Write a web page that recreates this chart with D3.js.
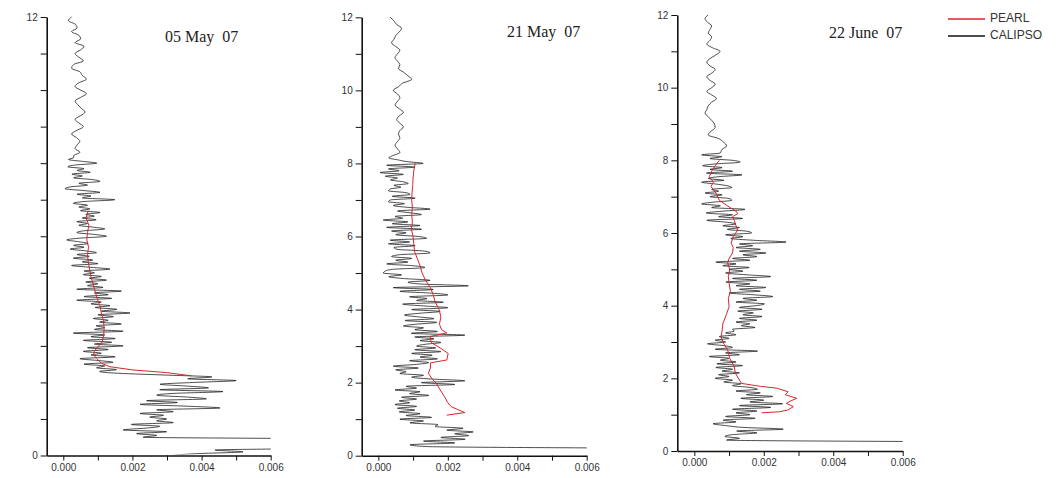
<!DOCTYPE html>
<html>
<head>
<meta charset="utf-8">
<script src="https://cdnjs.cloudflare.com/ajax/libs/d3/7.8.5/d3.min.js"></script>
<style>
  body { margin: 0; background: #fff; }
  svg { display: block; }
  .axis text { font-family: "Liberation Sans", Arial, sans-serif; font-size: 10px; fill: #333; }
  .axis path, .axis line { stroke: #111; }
  .title { font-family: "Liberation Serif", "Times New Roman", serif; font-size: 16px; fill: #222; white-space: pre; }
  .legend text { font-family: "Liberation Sans", Arial, sans-serif; font-size: 12px; fill: #333; }
</style>
</head>
<body>
<svg id="chart" width="1059" height="478"></svg>
<script>
// x values are in units of 1e-3, altitudes in km
var UNIT = 1e-3;
// CALIPSO profiles: above 8.2 km sampled every 0.1 km from 12.0, below every 0.05 km from 8.15
var TOP_ALT = 12.0, TOP_STEP = 0.1, LOW_ALT = 8.15, LOW_STEP = 0.05;

var titles = ["05 May  07", "21 May  07", "22 June  07"];
var xTicks = [0, 1, 2, 3, 4, 5, 6];
var yTicks = [0, 1, 2, 3, 4, 5, 6, 7, 8, 9, 10, 11, 12];
var legendNames = ["PEARL", "CALIPSO"];

var calipsoTop1 = [0.24,0.15,0.35,0.40,0.24,0.45,0.50,0.34,0.60,0.50,
  0.34,0.45,0.58,0.30,0.24,0.48,0.55,0.67,0.45,0.34,
  0.50,0.67,0.50,0.34,0.42,0.52,0.63,0.50,0.34,0.45,
  0.58,0.40,0.24,0.38,0.48,0.40,0.34,0.48,0.30];
var calipsoLow1 = [0.30,0.15,0.55,0.97,0.35,0.13,0.60,0.40,0.78,0.25,
  0.55,0.30,0.85,1.06,0.45,0.70,0.20,0.05,0.60,1.06,
  0.40,0.80,0.55,1.49,0.60,0.29,0.70,0.45,0.77,0.50,
  1.06,0.65,0.90,0.55,0.95,0.39,0.70,0.45,0.85,1.20,
  0.60,0.39,0.90,1.25,0.50,0.10,0.45,0.72,0.30,0.60,
  0.20,0.65,0.96,0.40,0.75,0.29,0.85,0.55,1.00,0.24,
  0.80,1.35,0.60,0.90,0.58,1.10,0.75,1.25,0.65,1.00,
  0.70,1.15,0.39,1.68,0.90,1.30,0.60,1.40,0.39,1.10,
  0.80,1.35,0.92,1.55,1.10,1.93,1.00,1.45,0.87,1.30,
  1.05,1.68,0.95,1.20,0.90,1.73,0.29,1.20,0.80,1.50,
  0.58,1.40,0.90,1.73,0.70,1.30,0.58,1.10,0.80,1.50,
  0.48,1.00,1.44,0.60,1.20,0.96,1.54,1.05,1.60,3.00,
  4.30,3.60,5.00,3.80,2.80,3.57,4.20,2.79,4.62,3.20,
  2.70,3.57,4.14,2.41,3.30,2.22,3.57,4.53,2.70,3.18,
  2.22,2.90,2.50,2.99,2.70,3.18,1.97,2.79,2.40,1.73,
  2.99,2.12,2.70,2.31,9.00,12.0,10.0,11.0,9.50,8.00,
  4.39,5.20,3.85,3.13];
var pearlAlt1 = [6.70,6.50,6.30,6.10,5.90,5.70,5.50,5.30,5.10,4.90,
  4.70,4.50,4.30,4.10,3.90,3.70,3.50,3.30,3.10,2.95,
  2.85,2.75,2.66,2.52,2.43,2.34,2.27,2.18];
var pearl1 = [0.72,0.66,0.74,0.70,0.68,0.73,0.70,0.72,0.76,0.80,
  0.86,0.92,0.98,1.06,1.10,1.16,1.18,1.17,1.12,0.98,
  0.90,0.88,0.96,1.11,1.35,2.02,2.98,3.71];

var calipsoTop2 = [0.34,0.45,0.53,0.67,0.60,0.50,0.45,0.38,0.50,0.62,
  0.55,0.48,0.55,0.62,0.58,0.72,0.85,0.96,0.70,0.58,
  0.43,0.55,0.62,0.55,0.48,0.60,0.72,0.60,0.53,0.62,
  0.72,0.62,0.58,0.62,0.55,0.48,0.55,0.62,0.38];
var calipsoLow2 = [0.30,0.55,0.82,1.29,0.24,1.05,0.29,0.60,0.05,0.72,
  0.20,0.55,0.35,0.70,0.86,0.45,0.65,0.34,0.29,0.80,
  0.91,0.40,1.06,0.35,0.29,0.75,0.43,0.82,1.49,0.55,
  0.90,1.24,0.48,0.70,0.14,0.85,0.40,1.20,0.24,1.24,
  0.38,0.80,0.50,1.15,1.39,0.34,0.90,0.29,1.06,0.45,
  0.53,1.34,1.49,0.60,0.38,0.96,0.50,0.85,0.24,1.00,
  1.34,0.40,0.19,0.14,0.67,0.30,0.72,1.49,0.85,1.20,
  2.59,0.43,1.58,0.62,1.53,2.00,0.90,1.40,1.10,1.87,
  0.70,1.30,2.00,0.96,1.78,1.20,0.75,1.15,1.60,0.77,
  1.68,1.10,0.72,1.30,1.05,1.70,0.95,2.49,1.05,1.60,
  1.20,1.80,1.35,1.10,1.65,1.05,1.80,0.96,1.55,1.20,
  1.70,0.90,1.45,1.10,0.43,1.15,0.50,0.80,0.62,1.30,
  0.96,1.50,2.49,1.24,2.20,0.80,1.10,0.48,1.20,0.90,
  1.45,0.67,1.10,0.60,0.90,0.48,1.10,0.55,1.05,0.60,
  1.20,0.80,1.53,0.62,1.30,0.91,1.72,1.63,2.44,1.97,
  2.73,2.20,2.60,1.80,2.50,1.30,2.20,0.91,1.39,9.00];
var pearlAlt2 = [8.0,7.8,7.6,7.4,7.2,7.0,6.8,6.6,6.4,6.2,
  6.0,5.8,5.6,5.4,5.2,5.0,4.8,4.6,4.4,4.2,
  4.0,3.8,3.6,3.45,3.36,3.26,3.1,2.95,2.8,2.62,
  2.54,2.4,2.26,2.1,1.98,1.8,1.61,1.45,1.34,1.18,1.11];
var pearl2 = [1.06,1.02,1.00,0.99,0.97,0.96,0.98,0.96,0.98,0.95,
  1.00,1.02,1.04,1.12,1.20,1.26,1.36,1.50,1.58,1.64,
  1.75,1.80,1.76,1.82,1.97,1.49,1.52,1.78,2.01,1.97,
  1.50,1.50,1.44,1.55,1.67,1.78,1.91,2.00,2.10,2.49,1.97];

var calipsoTop3 = [0.40,0.31,0.38,0.50,0.45,0.40,0.50,0.45,0.36,0.52,
  0.74,0.62,0.45,0.36,0.45,0.60,0.50,0.36,0.45,0.60,
  0.50,0.36,0.50,0.64,0.50,0.40,0.36,0.31,0.40,0.50,
  0.58,0.60,0.48,0.40,0.70,0.84,0.93,0.80,0.74];
var calipsoLow3 = [0.21,0.79,0.45,1.10,1.32,0.60,0.24,0.80,0.45,1.10,
  0.35,1.37,0.70,0.40,0.85,0.21,0.60,0.95,1.08,0.50,
  0.70,0.31,0.80,0.45,1.00,1.08,0.55,0.21,0.75,0.50,
  1.46,0.80,0.34,1.10,0.70,1.39,0.36,0.90,1.20,0.82,
  1.30,0.95,1.51,1.65,0.90,1.40,1.05,1.70,2.64,1.30,
  1.68,1.20,1.90,1.30,2.06,1.40,1.80,1.10,1.60,0.62,
  1.20,0.82,1.58,1.00,1.40,0.90,1.50,2.20,1.10,1.80,
  0.91,1.60,1.20,2.06,1.30,1.90,1.00,1.70,2.26,1.40,
  1.80,1.20,2.02,1.78,1.30,1.95,1.25,1.70,1.40,1.95,
  1.30,1.80,1.20,1.60,1.35,1.75,1.10,1.15,0.90,1.20,
  0.72,1.00,0.60,0.90,0.38,0.85,1.10,0.60,1.82,0.90,
  1.30,0.43,1.00,0.75,1.20,0.65,1.39,0.62,1.10,0.80,
  1.30,0.70,1.00,0.60,1.10,0.85,1.35,1.10,1.60,1.82,
  1.20,1.90,1.50,2.26,1.34,2.00,1.60,2.54,1.30,2.20,
  1.10,1.80,1.20,1.60,0.90,1.75,0.83,1.20,0.54,0.90,
  1.40,2.56,1.22,1.80,1.10,0.88,1.30,0.93,9.00];
var pearlAlt3 = [8.0,7.85,7.7,7.55,7.4,7.28,7.1,6.9,6.75,6.6,
  6.53,6.45,6.35,6.2,6.08,5.9,5.72,5.6,5.45,5.3,
  5.17,5.0,4.8,4.62,4.4,4.2,3.97,3.75,3.5,3.3,
  3.14,2.95,2.78,2.55,2.32,2.15,1.95,1.86,1.78,1.73,
  1.63,1.55,1.45,1.38,1.31,1.22,1.13,1.08,1.05];
var pearl3 = [0.72,0.60,0.50,0.43,0.55,0.48,0.62,0.72,0.95,1.20,
  1.25,1.10,1.15,1.20,1.25,1.12,1.06,1.12,1.10,1.00,
  0.96,1.02,0.98,1.00,1.04,0.98,1.00,0.92,0.82,0.80,
  0.77,0.85,0.96,1.02,1.15,1.18,1.30,1.36,1.90,2.37,
  2.70,2.62,2.95,2.78,2.65,2.85,2.70,2.45,1.94];

function profile(top, low) {
  var pts = top.map(function(v, i) { return {h: +(TOP_ALT - i * TOP_STEP).toFixed(2), v: v}; });
  return pts.concat(low.map(function(v, i) { return {h: +(LOW_ALT - i * LOW_STEP).toFixed(2), v: v}; }));
}

function Panel(svg, id) {
  var self = this;
  var _g, _x = d3.scaleLinear(), _y = d3.scaleLinear(), _yLabel = function() { return true; };

  self.setBox = function(left, right, top, bottom, xMin) {
    _x.domain([xMin, 6]).range([left, right]);
    _y.domain([0, 12]).range([bottom, top]);
  };

  self.yLabels = function(f) { _yLabel = f; };

  self.render = function(calipso, pearl, title, titlePos) {
    var xa = d3.axisBottom(_x).tickValues(xTicks).tickSize(5).tickSizeOuter(0).tickPadding(3)
      .tickFormat(function(d) { return d % 2 === 0 ? d3.format(".3f")(d * UNIT) : ""; });
    var ya = d3.axisLeft(_y).tickValues(yTicks).tickSize(6).tickSizeOuter(0).tickPadding(3)
      .tickFormat(function(d) { return _yLabel(d) ? d : ""; });

    _g.append("g").attr("class", "axis").attr("transform", "translate(0," + _y(0) + ")").call(xa);
    _g.append("g").attr("class", "axis").attr("transform", "translate(" + _x.range()[0] + ",0)").call(ya);
    _g.selectAll(".axis .domain").attr("stroke-width", 1.6);

    _g.append("clipPath").attr("id", "clip" + id)
      .append("rect")
      .attr("x", _x.range()[0] + 1).attr("y", _y(12) - 4)
      .attr("width", _x.range()[1] - _x.range()[0] - 1)
      .attr("height", _y(0) - _y(12) + 3);

    var line = d3.line().x(function(d) { return _x(d.v); }).y(function(d) { return _y(d.h); });

    _g.append("path").datum(calipso)
      .attr("clip-path", "url(#clip" + id + ")")
      .attr("fill", "none").attr("stroke", "#000").attr("stroke-width", 0.7)
      .attr("d", line.curve(d3.curveMonotoneY));

    _g.append("path").datum(pearl)
      .attr("fill", "none").attr("stroke", "#d8262b").attr("stroke-width", 1)
      .attr("d", line.curve(d3.curveLinear));

    _g.append("text").attr("class", "title").attr("xml:space", "preserve")
      .attr("x", titlePos[0]).attr("y", titlePos[1]).text(title);
  };

  _g = d3.select(svg).append("g").attr("class", "panel");
}

var svg = document.getElementById("chart");

var p1 = new Panel(svg, 1);
p1.setBox(46.7, 270.7, 17, 455.5, -0.48);
p1.yLabels(function(d) { return d === 0 || d === 12; });
p1.render(profile(calipsoTop1, calipsoLow1),
  pearlAlt1.map(function(h, i) { return {h: h, v: pearl1[i]}; }), titles[0], [165, 42]);

var p2 = new Panel(svg, 2);
p2.setBox(361.7, 586.7, 17.3, 455.7, -0.48);
p2.yLabels(function(d) { return d % 2 === 0; });
p2.render(profile(calipsoTop2, calipsoLow2),
  pearlAlt2.map(function(h, i) { return {h: h, v: pearl2[i]}; }), titles[1], [507, 37]);

var p3 = new Panel(svg, 3);
p3.setBox(677.3, 902.7, 15, 451, -0.49);
p3.yLabels(function(d) { return d % 2 === 0; });
p3.render(profile(calipsoTop3, calipsoLow3),
  pearlAlt3.map(function(h, i) { return {h: h, v: pearl3[i]}; }), titles[2], [829, 38]);

// legend
var legend = d3.select(svg).append("g").attr("class", "legend");
var legendColors = ["#d8262b", "#111"];
legendNames.forEach(function(name, i) {
  var y = 19 + i * 17;
  legend.append("line").attr("x1", 948).attr("x2", 985).attr("y1", y).attr("y2", y)
    .attr("stroke", legendColors[i]).attr("stroke-width", 1.3);
  legend.append("text").attr("x", 990).attr("y", y - 1).attr("dy", "0.35em").text(name);
});
</script>
</body>
</html>
